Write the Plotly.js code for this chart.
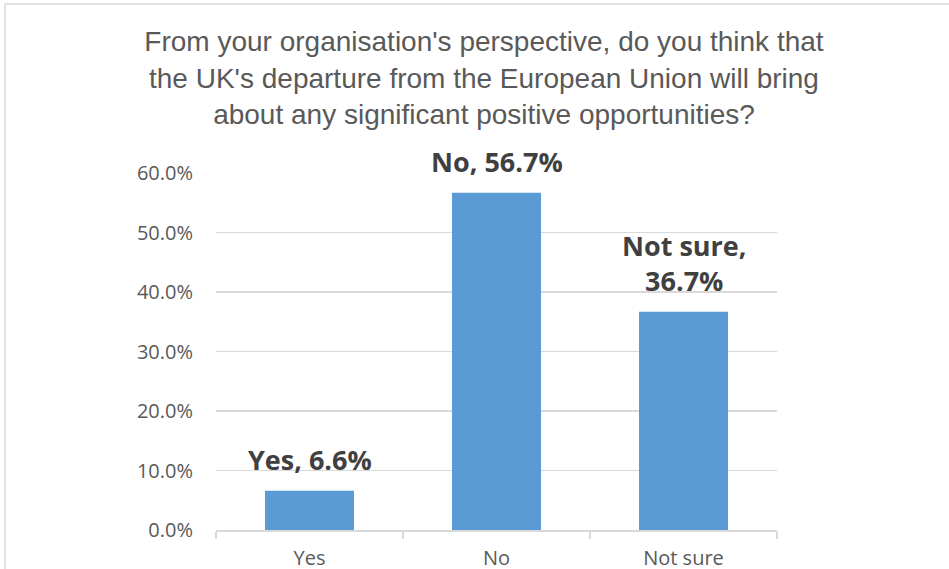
<!DOCTYPE html>
<html>
<head>
<meta charset="utf-8">
<script src="https://cdn.plot.ly/plotly-3.0.1.min.js"></script>
<style>
  html, body { margin: 0; padding: 0; background: #ffffff; }
  #chart { width: 949px; height: 569px; }
</style>
</head>
<body>
<div id="chart"></div>
<script>
const categories = ['Yes', 'No', 'Not sure'];
const values = [6.6, 56.7, 36.7];
const dataLabels = ['Yes, 6.6%', 'No, 56.7%', 'Not sure,<br>36.7%'];
const yTickValues = [0, 10, 20, 30, 40, 50, 60];
const yTickLabels = ['0.0%', '10.0%', '20.0%', '30.0%', '40.0%', '50.0%', '60.0%'];
const titleText = "From your organisation's perspective, do you think that<br>the UK's departure from the European Union will bring<br>about any significant positive opportunities?";

const trace = {
  type: 'bar',
  x: categories,
  y: values,
  marker: { color: '#5b9bd5', line: { width: 0 } },
  hoverinfo: 'x+y'
};

const annotations = categories.map((c, i) => ({
  x: c,
  y: values[i],
  xref: 'x',
  yref: 'y',
  text: dataLabels[i],
  showarrow: false,
  yanchor: 'bottom',
  yshift: 11,
  font: { family: 'Open Sans', size: 27, color: '#404040', weight: 'bold' }
}));

const layout = {
  width: 949,
  height: 569,
  margin: { l: 216, r: 172, t: 173, b: 39 },
  paper_bgcolor: '#ffffff',
  plot_bgcolor: '#ffffff',
  showlegend: false,
  bargap: 0.524,
  title: {
    text: titleText,
    font: { family: 'Liberation Sans, Arial', size: 28, color: '#595959' },
    x: 0.51,
    xanchor: 'center',
    xref: 'container',
    y: 0.91,
    yref: 'container',
    yanchor: 'top'
  },
  xaxis: {
    type: 'category',
    showline: true,
    linecolor: '#d9d9d9',
    linewidth: 1.5,
    ticks: 'outside',
    tickson: 'boundaries',
    ticklen: 7,
    tickcolor: '#d9d9d9',
    tickwidth: 1.5,
    ticklabelstandoff: 9,
    showgrid: false,
    tickfont: { family: 'Open Sans', size: 20, color: '#595959' }
  },
  yaxis: {
    range: [0, 60],
    tickvals: yTickValues,
    ticktext: yTickLabels,
    showgrid: true,
    gridcolor: '#d9d9d9',
    gridwidth: 1.5,
    zeroline: false,
    showline: false,
    ticks: 'outside',
    ticklen: 18,
    tickcolor: 'rgba(0,0,0,0)',
    tickfont: { family: 'Open Sans', size: 20, color: '#595959' }
  },
  shapes: [{
    type: 'rect',
    xref: 'paper', yref: 'paper',
    x0: (5 - 216) / 561, x1: (1000 - 216) / 561,
    y0: (530 - 620) / 357, y1: (530 - 4) / 357,
    line: { color: '#d9d9d9', width: 1.5 },
    fillcolor: 'rgba(0,0,0,0)',
    layer: 'below'
  }],
  annotations: annotations
};

Plotly.newPlot('chart', [trace], layout, { displayModeBar: false, staticPlot: true });
</script>
</body>
</html>
